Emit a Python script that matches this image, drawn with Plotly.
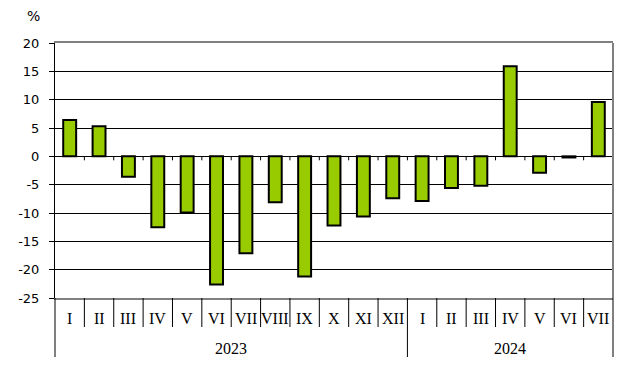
import plotly.graph_objects as go

months = ["I", "II", "III", "IV", "V", "VI", "VII", "VIII", "IX", "X", "XI", "XII",
          "I", "II", "III", "IV", "V", "VI", "VII"]
years = ["2023", "2024"]
year_counts = [12, 7]
values = [6.4, 5.3, -3.6, -12.5, -9.9, -22.6, -17.1, -8.1, -21.2, -12.2, -10.6, -7.4,
          -7.9, -5.6, -5.2, 15.9, -2.9, -0.2, 9.6]
y_ticks = [20, 15, 10, 5, 0, -5, -10, -15, -20, -25]

x = list(range(len(months)))
n = len(months)

fig = go.Figure(go.Bar(
    x=x, y=values,
    marker=dict(color="#99cc00", line=dict(color="#000000", width=2)),
    width=0.44,
))

plot_h = 255.0
plot_w = 558.0
shapes = []
annotations = []
# small ticks on zero line at category boundaries
for k in range(n - 1):
    shapes.append(dict(type="line", xref="x", yref="y", x0=k + 0.5, x1=k + 0.5,
                       y0=0, y1=-0.7, line=dict(color="black", width=1)))
year_bounds = []
acc = 0
for c in year_counts:
    acc += c
    year_bounds.append(acc)
# month separators below plot
for k in range(1, n):
    if k in year_bounds:
        continue
    shapes.append(dict(type="line", xref="x", yref="paper", x0=k - 0.5, x1=k - 0.5,
                       y0=0, y1=-29 / plot_h, line=dict(color="black", width=1)))
# year separators
shapes.append(dict(type="line", xref="paper", yref="paper", x0=0, x1=0,
                   y0=0, y1=-59 / plot_h, line=dict(color="black", width=1)))
shapes.append(dict(type="line", xref="paper", yref="paper", x0=1, x1=1,
                   y0=0, y1=-59 / plot_h, line=dict(color="black", width=1)))
for b in year_bounds[:-1]:
    shapes.append(dict(type="line", xref="x", yref="paper", x0=b - 0.5, x1=b - 0.5,
                       y0=0, y1=-59 / plot_h, line=dict(color="black", width=1)))
# right gray border
shapes.append(dict(type="line", xref="paper", yref="paper", x0=1, x1=1,
                   y0=0, y1=1, line=dict(color="#808080", width=2)))

for i, m in enumerate(months):
    annotations.append(dict(x=i, y=0, xref="x", yref="paper", text=m, showarrow=False,
                            yanchor="middle", yshift=-20,
                            font=dict(family="Liberation Serif", size=16, color="black")))
start = 0
for yname, c in zip(years, year_counts):
    center = start + (c - 1) / 2
    annotations.append(dict(x=center, y=0, xref="x", yref="paper", text=yname, showarrow=False,
                            yanchor="middle", yshift=-50,
                            font=dict(family="Liberation Serif", size=16, color="black")))
    start += c
annotations.append(dict(x=(33 - 55) / plot_w, y=(298 - 16) / plot_h, xref="paper", yref="paper",
                        text="%", showarrow=False, xanchor="center", yanchor="middle",
                        font=dict(family="DejaVu Sans", size=14, color="black")))

fig.update_layout(
    width=626, height=368,
    margin=dict(l=55, r=13, t=43, b=70),
    paper_bgcolor="white", plot_bgcolor="white",
    showlegend=False,
    shapes=shapes, annotations=annotations,
    bargap=0.5,
)
fig.update_xaxes(range=[-0.5, n - 0.5], showticklabels=False, showgrid=False,
                 zeroline=False, showline=True, linecolor="#808080", linewidth=2,
                 mirror=True, ticks="")
fig.update_yaxes(range=[-25, 20], tickvals=y_ticks, ticktext=[str(v) for v in y_ticks],
                 showgrid=True, gridcolor="black", gridwidth=1,
                 zeroline=True, zerolinecolor="black", zerolinewidth=1,
                 showline=True, linecolor="black", linewidth=1,
                 ticks="outside", ticklen=5, tickcolor="black",
                 ticklabelstandoff=7,
                 tickfont=dict(family="DejaVu Sans", size=13, color="black"))

fig.write_html("out.html", config={"displayModeBar": False},
               post_script="document.body.style.margin='0';document.body.style.padding='0';")
